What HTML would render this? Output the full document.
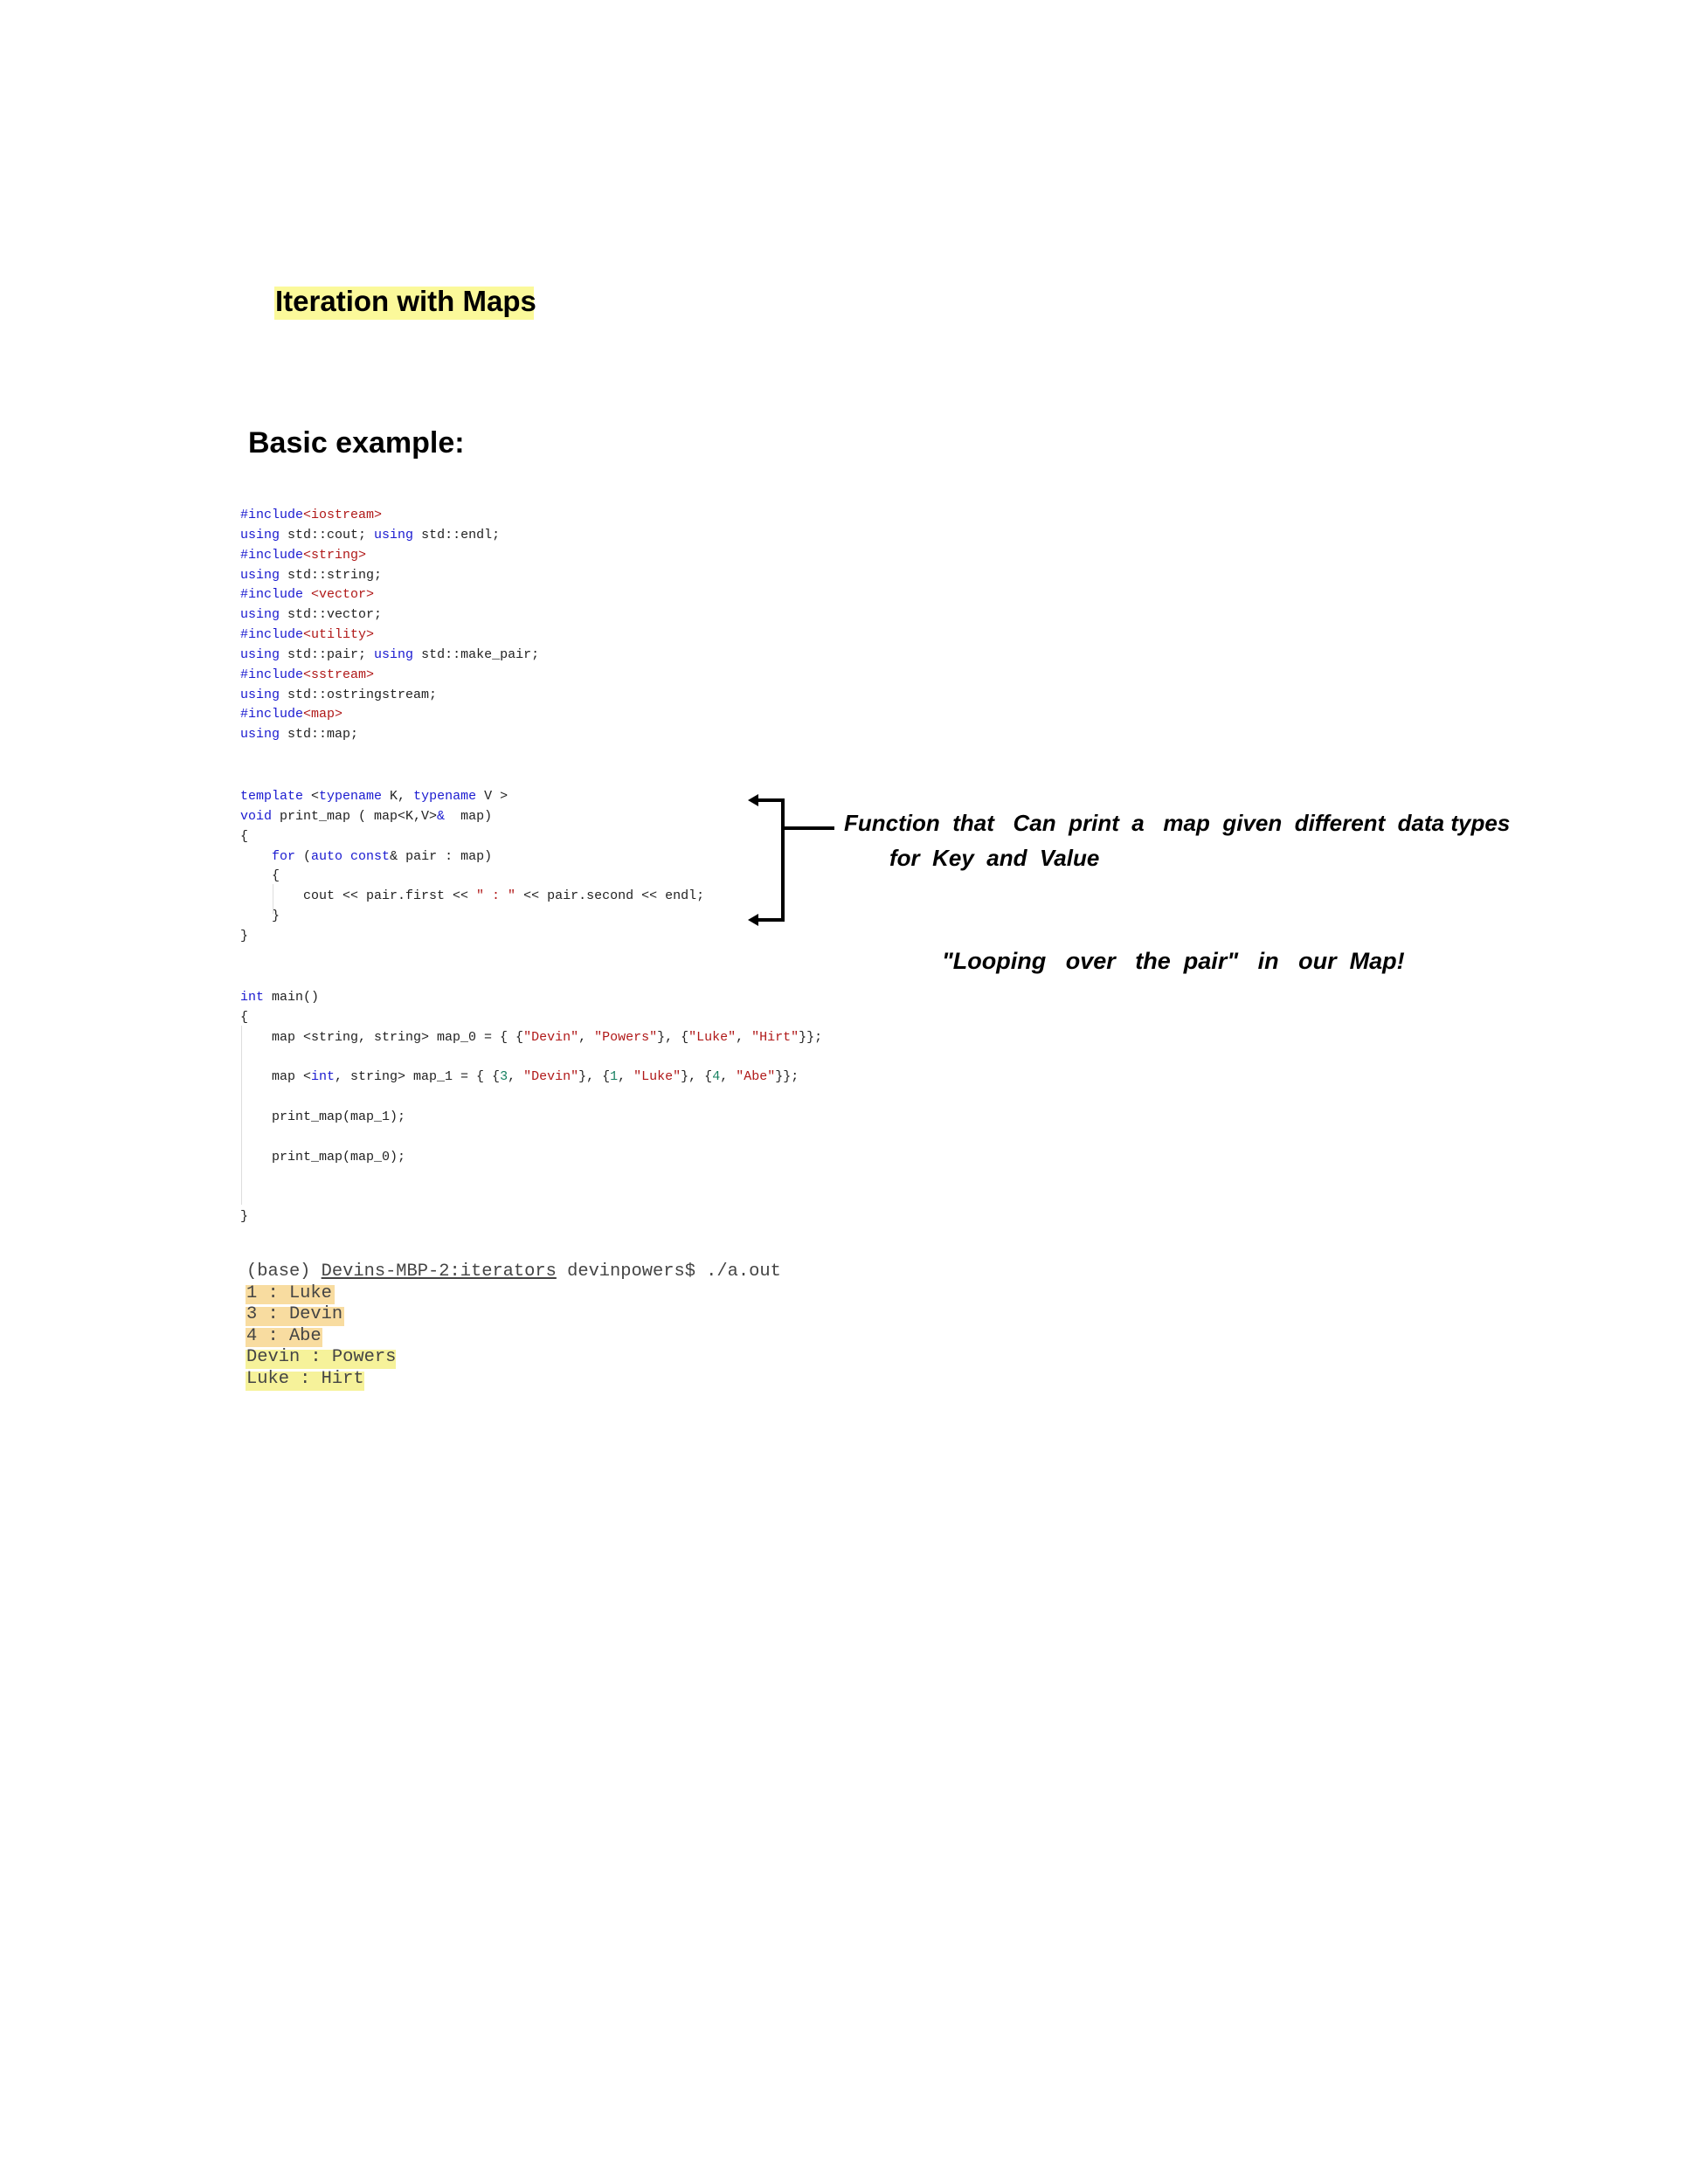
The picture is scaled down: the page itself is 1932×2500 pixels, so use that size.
<!DOCTYPE html>
<html><head><meta charset="utf-8"><style>
body{margin:0;background:#fff;}
.p{position:relative;width:1932px;height:2500px;overflow:hidden;font-family:"Liberation Sans",sans-serif;}
.a{position:absolute;white-space:pre;}
.c{font-family:"Liberation Mono",monospace;font-size:15px;color:#222;line-height:22.85px;}
.k{color:#1a1ad0}.s{color:#b01818}.n{color:#168060}
.t{font-family:"Liberation Mono",monospace;font-size:20.4px;color:#444;line-height:24.6px;}
.h{font-family:"Liberation Sans Narrow","Liberation Sans",sans-serif;font-size:26px;color:#000;font-weight:bold;font-style:italic;}
</style></head><body><div class="p">
<div class="a" style="left:314px;top:328px;width:297px;height:38px;background:#fbf99a"></div>
<div class="a" style="left:315px;top:326px;font-size:33px;font-weight:bold;">Iteration with Maps</div>
<div class="a" style="left:284px;top:488px;font-size:34px;font-weight:bold;">Basic example:</div>

<div class="a c" style="left:275px;top:579px;"><span class="k">#include</span><span class="s">&lt;iostream&gt;</span>
<span class="k">using</span> std::cout; <span class="k">using</span> std::endl;
<span class="k">#include</span><span class="s">&lt;string&gt;</span>
<span class="k">using</span> std::string;
<span class="k">#include</span> <span class="s">&lt;vector&gt;</span>
<span class="k">using</span> std::vector;
<span class="k">#include</span><span class="s">&lt;utility&gt;</span>
<span class="k">using</span> std::pair; <span class="k">using</span> std::make_pair;
<span class="k">#include</span><span class="s">&lt;sstream&gt;</span>
<span class="k">using</span> std::ostringstream;
<span class="k">#include</span><span class="s">&lt;map&gt;</span>
<span class="k">using</span> std::map;</div>

<div class="a c" style="left:275px;top:901px;"><span class="k">template</span> &lt;<span class="k">typename</span> K, <span class="k">typename</span> V &gt;
<span class="k">void</span> print_map ( map&lt;K,V&gt;<span class="k">&amp;</span>  map)
{
    <span class="k">for</span> (<span class="k">auto const</span>&amp; pair : map)
    {
        cout &lt;&lt; pair.first &lt;&lt; <span class="s">" : "</span> &lt;&lt; pair.second &lt;&lt; endl;
    }
}</div>
<div class="a" style="left:312px;top:1012px;width:1px;height:34px;background:#ddd"></div>

<div class="a c" style="left:275px;top:1131px;"><span class="k">int</span> main()
{
    map &lt;string, string&gt; map_0 = { {<span class="s">"Devin"</span>, <span class="s">"Powers"</span>}, {<span class="s">"Luke"</span>, <span class="s">"Hirt"</span>}};

    map &lt;<span class="k">int</span>, string&gt; map_1 = { {<span class="n">3</span>, <span class="s">"Devin"</span>}, {<span class="n">1</span>, <span class="s">"Luke"</span>}, {<span class="n">4</span>, <span class="s">"Abe"</span>}};

    print_map(map_1);

    print_map(map_0);


}</div>
<div class="a" style="left:276px;top:1174px;width:1px;height:205px;background:#ddd"></div>

<div class="a" style="left:281px;top:1471px;width:102px;height:22px;background:#f8dca0"></div>
<div class="a" style="left:281px;top:1496px;width:113px;height:22px;background:#f8dca0"></div>
<div class="a" style="left:281px;top:1520px;width:88px;height:22px;background:#f8dca0"></div>
<div class="a" style="left:281px;top:1545px;width:172px;height:22px;background:#f6f29a"></div>
<div class="a" style="left:281px;top:1570px;width:136px;height:22px;background:#f6f29a"></div>
<div class="a t" style="left:282px;top:1444px;">(base) <span style="text-decoration:underline">Devins-MBP-2:iterators</span> devinpowers$ ./a.out
1 : Luke
3 : Devin
4 : Abe
Devin : Powers
Luke : Hirt</div>

<svg class="a" style="left:0;top:0" width="1932" height="2500">
<g stroke="#000" stroke-width="4" fill="none">
<path d="M864 916 H896 V1053 H864"/>
<path d="M896 948 H955"/>
</g>
<path d="M856 916 L868 909 L868 923 Z M856 1053 L868 1046 L868 1060 Z" fill="#000"/>
</svg>
<div class="a h" style="left:966px;top:927px;">Function  that   Can  print  a   map  given  different  data types</div>
<div class="a h" style="left:1018px;top:967px;">for  Key  and  Value</div>
<div class="a h" style="left:1078px;top:1085px;font-size:27px;">"Looping   over   the  pair"   in   our  Map!</div>
</div></body></html>
